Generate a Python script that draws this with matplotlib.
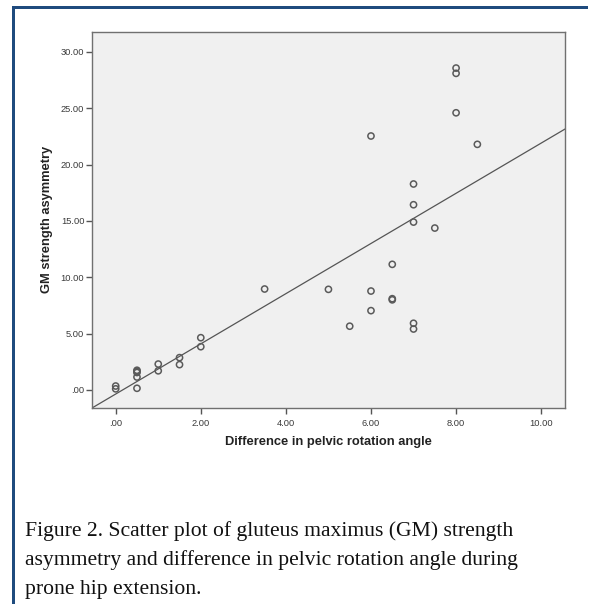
import matplotlib
matplotlib.use("Agg")
import matplotlib.pyplot as plt
from matplotlib.patches import Rectangle
from matplotlib.ticker import FixedLocator, FixedFormatter
import numpy as np

# ---- data ----
pelvic_diff = [0, 0, 0.5, 0.5, 0.5, 0.5, 0.5, 1, 1, 1.5, 1.5, 2, 2, 3.5, 5, 5.5,
               6, 6, 6, 6.5, 6.5, 6.5, 7, 7, 7, 7, 7, 7.5, 8, 8, 8, 8.5]
gm_asym = [0.35, 0.1, 1.75, 1.65, 1.55, 1.15, 0.15, 2.3, 1.7, 2.87, 2.25, 4.64, 3.84,
           8.96, 8.93, 5.66, 22.54, 8.78, 7.04, 11.15, 8.1, 8.0, 18.28, 16.44, 14.9,
           5.92, 5.41, 14.37, 28.57, 28.1, 24.6, 21.8]
fit_slope = 2.227
fit_intercept = -0.36

x_ticks = [0, 2, 4, 6, 8, 10]
x_tick_labels = [".00", "2.00", "4.00", "6.00", "8.00", "10.00"]
y_ticks = [0, 5, 10, 15, 20, 25, 30]
y_tick_labels = [".00", "5.00", "10.00", "15.00", "20.00", "25.00", "30.00"]

x_label = "Difference in pelvic rotation angle"
y_label = "GM strength asymmetry"
caption_lines = [
    "Figure 2. Scatter plot of gluteus maximus (GM) strength",
    "asymmetry and difference in pelvic rotation angle during",
    "prone hip extension.",
]

W, H = 592, 604
fig = plt.figure(figsize=(W / 100, H / 100), dpi=100)
fig.patch.set_facecolor("white")

# blue frame (left and top)
border = "#1f4b7e"
fig.add_artist(Rectangle((12 / W, 0), 3 / W, 1 - 6 / H, transform=fig.transFigure,
                         color=border, lw=0))
fig.add_artist(Rectangle((12 / W, 1 - 9 / H), (588 - 12) / W, 3 / H,
                         transform=fig.transFigure, color=border, lw=0))

# axes: px left 92, right 565, top 32, bottom 408
ax = fig.add_axes([92 / W, 1 - 408 / H, (565 - 92) / W, (408 - 32) / H])
ax.set_facecolor("#f0f0f0")
ax.set_xlim(-0.557, 10.56)
ax.set_ylim(-1.6, 31.77)

xs = np.array(ax.get_xlim())
ax.plot(xs, fit_slope * xs + fit_intercept, color="#555555", lw=0.9, zorder=2)
ax.scatter(pelvic_diff, gm_asym, s=20, facecolors="none", edgecolors="#5a5a5a",
           linewidths=1.1, zorder=3)

ax.xaxis.set_major_locator(FixedLocator(x_ticks))
ax.xaxis.set_major_formatter(FixedFormatter(x_tick_labels))
ax.yaxis.set_major_locator(FixedLocator(y_ticks))
ax.yaxis.set_major_formatter(FixedFormatter(y_tick_labels))
ax.tick_params(axis="both", direction="out", length=4, width=1, color="#555555",
               labelsize=6.7, labelcolor="#3a3a3a")
ax.tick_params(axis="x", pad=4)
ax.tick_params(axis="y", pad=1.5)
for s in ax.spines.values():
    s.set_color("#707070")
    s.set_linewidth(1.0)
for lab in ax.get_xticklabels() + ax.get_yticklabels():
    lab.set_family("Liberation Sans")

fig.text(328 / W, 1 - 442 / H, x_label, ha="center", va="center",
         fontsize=9.3, fontweight="bold", family="Liberation Sans", color="#222222")
fig.text(47 / W, 1 - 219.5 / H, y_label, ha="center", va="center", rotation=90,
         fontsize=9.3, fontweight="bold", family="Liberation Sans", color="#222222")

base_y = [536, 565, 594]
for line, yb in zip(caption_lines, base_y):
    fig.text(25 / W, 1 - yb / H, line, ha="left", va="baseline",
             fontsize=15.6, family="Liberation Serif", color="#111111")

fig.savefig("out.png", dpi=100)
